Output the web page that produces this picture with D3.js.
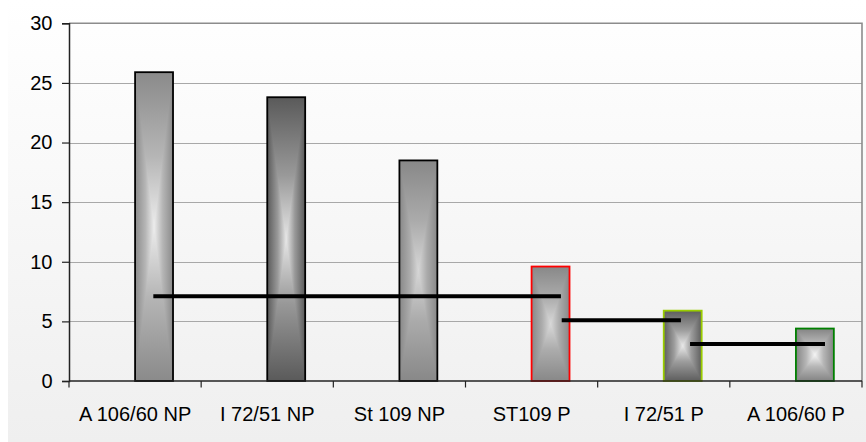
<!DOCTYPE html>
<html>
<head>
<meta charset="utf-8">
<script src="https://cdn.jsdelivr.net/npm/d3@7"></script>
<style>
  html, body { margin: 0; padding: 0; background: #ffffff; }
  svg { display: block; }
  text { font-family: "Liberation Sans", Arial, sans-serif; fill: #000; }
</style>
</head>
<body>
<svg id="chart" width="866" height="442"></svg>
<script>
// ---------- data ----------
const categories = ["A 106/60 NP", "I 72/51 NP", "St 109 NP", "ST109 P", "I 72/51 P", "A 106/60 P"];
const values = [25.9, 23.8, 18.5, 9.6, 5.9, 4.4];
const yTicks = [0, 5, 10, 15, 20, 25, 30];
// horizontal reference segments (x in category units, y in value units)
const segStart = [0.638, 3.728, 4.699];
const segEnd = [3.722, 4.630, 5.720];
const segValue = [7.1, 5.1, 3.1];

// ---------- styles ----------
const barEdge = ["#8a8a8a", "#5a5a5a", "#888888", "#888888", "#5e5e5e", "#848484"];
const barCenter = ["#ececec", "#e6e6e6", "#d6d6d6", "#d8d8d8", "#e8e8e8", "#f4f4f4"];
const barStroke = ["#000000", "#000000", "#000000", "#ff0000", "#99cc00", "#008000"];

const W = 866, H = 442;
const margin = { left: 69, right: 866 - 862, top: 23.3, bottom: 442 - 381 };
const svg = d3.select("#chart");
const defs = svg.append("defs");

// background gradient
const bg = defs.append("linearGradient").attr("id", "bg").attr("x1", 0).attr("y1", 0).attr("x2", 0).attr("y2", 1);
bg.append("stop").attr("offset", 0).attr("stop-color", "#ffffff");
bg.append("stop").attr("offset", 1).attr("stop-color", "#efefef");
svg.append("rect").attr("x", 8).attr("y", 0).attr("width", W - 8).attr("height", H).attr("fill", "url(#bg)");

const x = d3.scaleBand().domain(categories).range([margin.left, W - margin.right]).paddingInner(0).paddingOuter(0);
const xc = d3.scaleLinear().domain([0, categories.length]).range([margin.left, W - margin.right]);
const y = d3.scaleLinear().domain([0, 30]).range([H - margin.bottom, margin.top]);

// gridlines
svg.append("g").selectAll("line").data(yTicks.filter(d => d > 0 && d < 30)).join("line")
  .attr("x1", margin.left).attr("x2", W - margin.right)
  .attr("y1", d => Math.round(y(d)) + 0.5).attr("y2", d => Math.round(y(d)) + 0.5)
  .attr("stroke", "#a8a8a8").attr("stroke-width", 1);

// plot border top/right
svg.append("path")
  .attr("d", `M${margin.left},${y(30)}H${W - margin.right}V${y(0)}`)
  .attr("fill", "none").attr("stroke", "#8c8c8c").attr("stroke-width", 1.6);

// per-bar gradients
function addStops(g, i, rev) {
  const mid = d3.interpolateRgb(barEdge[i], barCenter[i])(0.45);
  g.append("stop").attr("offset", 0).attr("stop-color", barEdge[i]);
  g.append("stop").attr("offset", 0.55).attr("stop-color", mid);
  g.append("stop").attr("offset", 1).attr("stop-color", barCenter[i]);
}
categories.forEach((c, i) => {
  // symmetric horizontal gradient: edge -> center -> edge
  const h = defs.append("linearGradient").attr("id", `gh${i}`).attr("x1", 0).attr("y1", 0).attr("x2", 1).attr("y2", 0);
  const mid = d3.interpolateRgb(barEdge[i], barCenter[i])(0.45);
  h.append("stop").attr("offset", 0).attr("stop-color", barEdge[i]);
  h.append("stop").attr("offset", 0.275).attr("stop-color", mid);
  h.append("stop").attr("offset", 0.5).attr("stop-color", barCenter[i]);
  h.append("stop").attr("offset", 0.725).attr("stop-color", mid);
  h.append("stop").attr("offset", 1).attr("stop-color", barEdge[i]);
  const t = defs.append("linearGradient").attr("id", `gt${i}`).attr("x1", 0).attr("y1", 0).attr("x2", 0).attr("y2", 1);
  addStops(t, i);
  const b = defs.append("linearGradient").attr("id", `gb${i}`).attr("x1", 0).attr("y1", 1).attr("x2", 0).attr("y2", 0);
  addStops(b, i);
});

const barW = x.bandwidth() * 0.287;
const bars = svg.append("g");
categories.forEach((c, i) => {
  const x0 = x(c) + x.bandwidth() / 2;
  const x1 = x0 + barW;
  const y0 = y(values[i]);
  const y1 = y(0);
  const cx = (x0 + x1) / 2, cy = (y0 + y1) / 2;
  const g = bars.append("g");
  g.append("rect").attr("x", x0).attr("y", y0).attr("width", barW).attr("height", y1 - y0).attr("fill", `url(#gh${i})`);
  g.append("polygon").attr("points", `${x0},${y0} ${x1},${y0} ${cx},${cy}`).attr("fill", `url(#gt${i})`);
  g.append("polygon").attr("points", `${x0},${y1} ${x1},${y1} ${cx},${cy}`).attr("fill", `url(#gb${i})`);
  g.append("rect").attr("x", x0).attr("y", y0).attr("width", barW).attr("height", y1 - y0)
    .attr("fill", "none").attr("stroke", barStroke[i]).attr("stroke-width", 1.8);
});

// reference segments
svg.append("g").selectAll("line").data(segValue).join("line")
  .attr("x1", (d, i) => xc(segStart[i])).attr("x2", (d, i) => xc(segEnd[i]))
  .attr("y1", d => y(d)).attr("y2", d => y(d))
  .attr("stroke", "#000").attr("stroke-width", 4);

// y axis
const yAxis = svg.append("g").attr("transform", `translate(${margin.left},0)`)
  .call(d3.axisLeft(y).tickValues(yTicks).tickSize(7).tickPadding(9.5).tickFormat(d3.format("d")));
yAxis.select(".domain").attr("stroke", "#222").attr("stroke-width", 1.5);
yAxis.selectAll(".tick line").attr("stroke", "#222").attr("stroke-width", 1.2);
yAxis.selectAll(".tick text").style("font-size", "20px").attr("fill", "#000")
  .style("font-family", '"Liberation Sans", Arial, sans-serif');

// x axis
const xAxisG = svg.append("g").attr("transform", `translate(0,${y(0)})`);
xAxisG.append("line").attr("x1", margin.left).attr("x2", W - margin.right).attr("y1", 0).attr("y2", 0)
  .attr("stroke", "#222").attr("stroke-width", 1.5);
const bounds = categories.map(c => x(c)).concat([W - margin.right]);
xAxisG.selectAll("line.tk").data(bounds).join("line").attr("class", "tk")
  .attr("x1", d => d).attr("x2", d => d).attr("y1", 0).attr("y2", 6.5)
  .attr("stroke", "#222").attr("stroke-width", 1.2);
xAxisG.selectAll("text").data(categories).join("text")
  .attr("x", d => x(d) + x.bandwidth() / 2).attr("y", 39.5)
  .attr("text-anchor", "middle").style("font-size", "20px")
  .text(d => d);
</script>
</body>
</html>
